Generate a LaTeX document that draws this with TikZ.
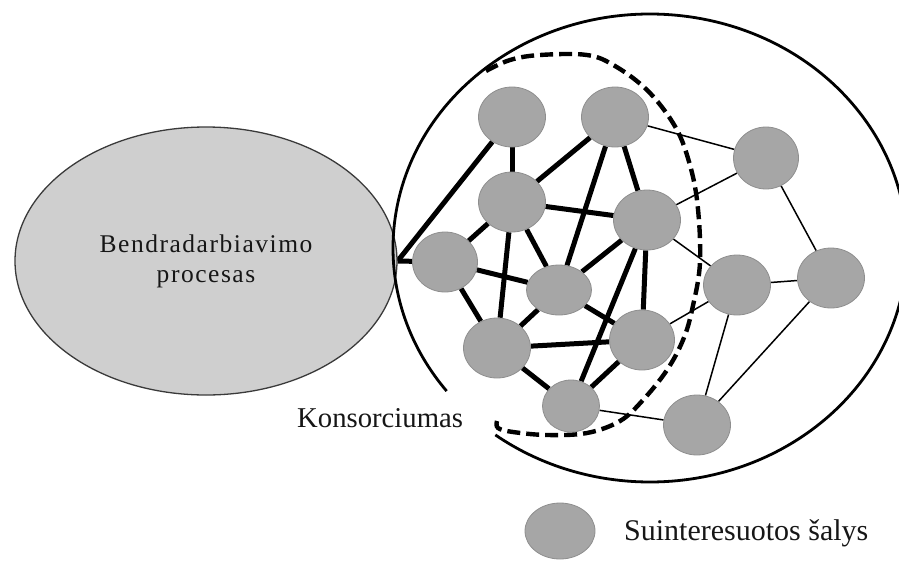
\documentclass[tikz,border=0pt]{standalone}
\usepackage{fontspec}
\setmainfont{Liberation Serif}
\usetikzlibrary{shapes.geometric,backgrounds}
\definecolor{partyfill}{HTML}{A6A6A6}
\definecolor{partyline}{HTML}{8E8E8E}
\definecolor{procfill}{HTML}{CFCFCF}
\definecolor{procline}{HTML}{3A3A3A}
\definecolor{inktext}{HTML}{161616}

\begin{document}
\begin{tikzpicture}[x=1pt,y=-1pt,
  party/.style={ellipse, fill=partyfill, draw=partyline, line width=0.8pt,
    minimum width=67pt, minimum height=60pt, inner sep=0pt},
  strong/.style={line width=5pt},
  weak/.style={line width=1.5pt},
  label/.style={inner sep=0pt, text=inktext},
  border/.style={line width=2.8pt},
  coreline/.style={line width=4.4pt, dash pattern=on 13pt off 6pt}
]
\useasboundingbox (0,0) rectangle (899,560);
\clip (0,0) rectangle (899,560);

% collaboration process
\node[ellipse, fill=procfill, draw=procline, line width=1.3pt,
  minimum width=382pt, minimum height=268pt, inner sep=0pt, align=center,
  text=inktext, font=\addfontfeatures{LetterSpace=6}\fontsize{25.5}{30}\selectfont]
  (proc) at (206,261) {Bendradarbiavimo\\procesas};

% stakeholders
\node[party] (p1) at (512,117) {};
\node[party] (p2) at (615,117) {};
\node[party, minimum width=65pt, minimum height=62pt] (p3) at (766,158) {};
\node[party] (p4) at (512,202) {};
\node[party] (p5) at (647,220) {};
\node[party, minimum width=65pt] (p6) at (445,262) {};
\node[party, minimum width=65pt, minimum height=50pt] (p7) at (559,290) {};
\node[party] (p8) at (737,285) {};
\node[party] (p9) at (831,278) {};
\node[party] (p10) at (497,348) {};
\node[party, minimum width=65pt] (p11) at (642,340) {};
\node[party, minimum width=57pt, minimum height=52pt] (p12) at (571,406) {};
\node[party] (p13) at (697,425) {};

% links
\begin{pgfonlayer}{background}
  \draw[strong] (proc.east) -- (p1);
  \draw[strong] (proc.east) -- (p6);
  \foreach \a/\b in {p1/p4, p2/p4, p4/p6, p2/p7, p2/p5,
      p4/p5, p4/p7, p4/p10, p6/p7, p5/p7, p5/p11, p5/p12, p6/p10, p7/p10,
      p7/p11, p10/p11, p10/p12, p11/p12}
    \draw[strong] (\a) -- (\b);
  \foreach \a/\b in {p2/p3, p3/p5, p3/p9, p5/p8, p8/p9, p11/p8, p8/p13,
      p9/p13, p12/p13}
    \draw[weak] (\a) -- (\b);
\end{pgfonlayer}

% consortium boundary
\coordinate (hub) at (650,248);
\draw[border] ([shift={(142.3:257 and 234)}]hub)
  arc[start angle=142.3, end angle=487, x radius=257, y radius=234];

% core group
\draw[coreline] plot[smooth, tension=0.6] coordinates {
  (486,71) (510,60) (540,55) (587,55) (615,66) (647,90) (673,123) (687,155)
  (697,200) (700,262) (692,310) (683,340) (667,370) (643,400) (620,421)
  (587,433) (547,435) (513,432) (498,428) (497,421)};

\node[label, anchor=base west, font=\fontsize{28.7}{33}\selectfont]
  (konsort) at (297,427) {Konsorciumas};

% legend
\node[party, minimum width=70pt, minimum height=56pt] (legendparty) at (560,531) {};
\node[label, anchor=base west, font=\fontsize{30}{34}\selectfont]
  (legendtext) at (624,540) {Suinteresuotos šalys};
\end{tikzpicture}
\end{document}
